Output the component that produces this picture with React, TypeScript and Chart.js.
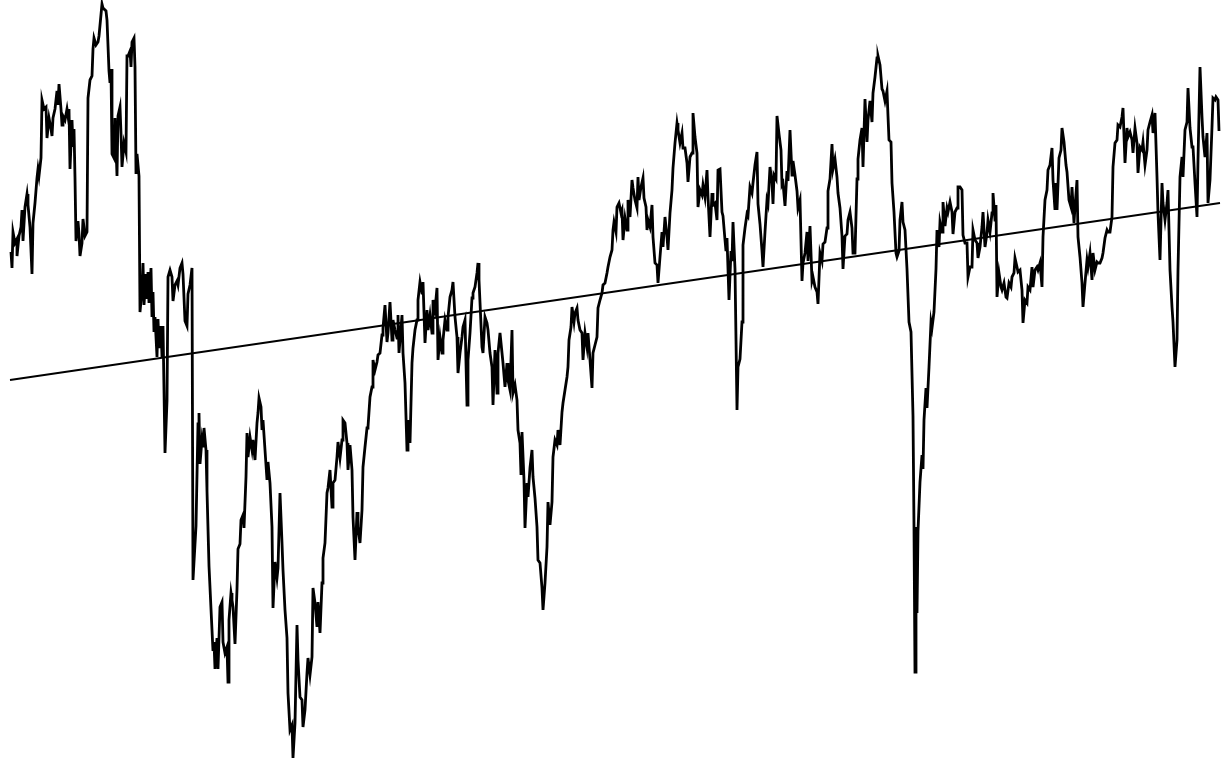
import React, { useEffect, useRef } from "react";
import { Chart, registerables } from "chart.js";

Chart.register(...registerables);

// [time index, value] pairs
const SERIES: Array<[number, number]> = [
  [0.1, 54.8], [0.2, 53.2], [0.3, 56.8], [0.5, 55.7], [0.7, 56.1], [0.7, 54.4], [0.9, 56.4], [1.1, 57.3], [1.2, 59.0], [1.3, 55.9],
  [1.5, 59.3], [1.7, 60.6], [1.8, 59.5], [2.0, 57.3], [2.2, 52.6], [2.3, 57.7], [2.5, 59.7], [2.7, 62.2], [2.8, 63.1], [2.9, 62.4],
  [3.1, 64.2], [3.2, 70.0], [3.4, 69.1], [3.6, 69.3], [3.7, 66.2], [3.9, 68.2], [4.1, 67.1], [4.2, 66.4], [4.3, 68.2], [4.5, 69.1],
  [4.7, 70.9], [4.8, 69.5], [4.9, 71.6], [5.1, 69.1], [5.2, 67.5], [5.3, 68.4], [5.5, 68.0], [5.7, 69.1], [5.8, 68.4], [5.9, 69.1],
  [6.0, 63.1], [6.2, 68.0], [6.3, 65.3], [6.4, 67.1], [6.5, 62.2], [6.6, 55.9], [6.8, 57.9], [6.9, 56.6], [7.0, 54.4], [7.2, 55.7],
  [7.3, 58.1], [7.5, 56.4], [7.7, 56.8], [7.8, 70.2], [8.0, 72.0], [8.2, 72.4], [8.3, 75.1], [8.4, 76.2], [8.6, 75.5], [8.8, 75.8],
  [8.9, 76.4], [9.2, 79.6], [9.3, 79.2], [9.6, 78.9], [9.7, 78.0], [9.9, 72.9], [10.0, 71.7], [10.1, 73.1], [10.2, 64.6], [10.4, 64.2],
  [10.5, 68.2], [10.7, 62.4], [10.8, 68.4], [11.0, 69.3], [11.1, 66.6], [11.2, 63.3], [11.4, 65.7], [11.6, 64.8], [11.7, 74.4], [11.8, 74.4],
  [12.0, 74.9], [12.1, 73.3], [12.2, 75.8], [12.4, 76.2], [12.5, 73.3], [12.6, 62.6], [12.7, 64.6], [12.9, 62.4], [13.0, 48.8], [13.2, 51.0],
  [13.3, 53.7], [13.4, 49.5], [13.6, 52.6], [13.7, 50.1], [13.8, 52.8], [13.9, 49.7], [14.1, 53.2], [14.2, 48.3], [14.3, 50.8], [14.4, 46.8],
  [14.5, 48.3], [14.7, 44.3], [14.8, 48.1], [14.9, 45.2], [15.1, 47.4], [15.2, 44.3], [15.3, 47.4], [15.5, 34.7], [15.7, 39.9], [15.8, 52.3],
  [16.0, 53.0], [16.2, 52.3], [16.3, 49.9], [16.5, 51.5], [16.7, 51.9], [16.8, 51.5], [17.0, 53.2], [17.2, 53.7], [17.3, 52.6], [17.5, 47.9],
  [17.7, 47.4], [17.8, 50.6], [18.0, 51.5], [18.2, 53.2], [18.3, 22.0], [18.6, 27.4], [18.8, 37.6], [18.9, 38.7], [19.0, 33.6], [19.2, 36.1],
  [19.3, 35.4], [19.4, 37.2], [19.6, 35.0], [19.7, 30.9], [19.9, 23.4], [20.1, 19.1], [20.3, 14.9], [20.4, 15.8], [20.5, 13.1], [20.7, 16.2],
  [20.8, 13.1], [21.0, 19.3], [21.2, 19.8], [21.3, 15.8], [21.5, 14.7], [21.7, 15.3], [21.8, 11.8], [21.9, 18.0], [22.1, 20.7], [22.2, 20.0],
  [22.3, 19.3], [22.5, 15.6], [22.7, 21.1], [22.8, 25.1], [23.0, 25.6], [23.1, 28.0], [23.3, 28.5], [23.4, 27.2], [23.6, 32.3],
  [23.7, 36.7], [23.8, 34.3], [24.0, 36.3], [24.2, 35.0], [24.3, 36.0], [24.5, 34.0], [24.7, 37.7], [24.8, 38.7], [24.9, 40.2], [25.1, 39.3],
  [25.2, 37.0], [25.3, 38.0], [25.5, 35.0], [25.7, 32.0], [25.8, 33.8], [26.0, 31.7], [26.2, 27.3], [26.3, 19.2], [26.5, 23.8], [26.7, 22.2],
  [26.8, 23.2], [27.0, 30.7], [27.2, 25.7], [27.3, 23.0], [27.5, 19.0], [27.7, 16.2], [27.8, 10.7], [28.0, 7.0], [28.2, 7.5], [28.3, 4.2],
  [28.5, 7.7], [28.7, 17.5], [28.8, 14.0], [29.0, 10.3], [29.2, 10.0], [29.3, 7.3], [29.5, 9.0], [29.7, 12.7], [29.8, 14.2], [30.0, 12.5],
  [30.2, 14.3], [30.3, 21.2], [30.5, 19.7], [30.7, 17.3], [30.8, 19.8], [31.0, 16.7], [31.2, 21.7], [31.3, 24.2], [31.5, 25.7], [31.7, 30.7],
  [31.8, 31.2], [32.0, 33.0], [32.2, 29.3], [32.3, 31.7], [32.5, 32.0], [32.7, 34.3], [32.8, 35.8], [33.0, 34.2], [33.2, 36.0], [33.3, 38.0],
  [33.5, 37.7], [33.7, 35.7], [33.8, 33.0], [34.0, 35.5], [34.2, 33.0], [34.3, 28.3], [34.5, 24.0], [34.7, 28.8], [34.8, 27.3], [35.0, 25.7],
  [35.2, 29.0], [35.3, 33.3], [35.5, 35.3], [35.7, 37.2], [35.8, 37.3], [36.0, 40.3], [36.2, 41.3], [36.3, 44.0], [36.5, 43.0], [36.7, 43.8],
  [36.8, 44.5], [37.0, 44.7], [37.2, 46.5], [37.3, 47.2], [37.5, 49.5], [37.7, 45.8], [37.8, 46.7], [38.0, 49.8], [38.2, 46.0], [38.3, 48.0],
  [38.5, 47.0], [38.7, 46.2], [38.8, 48.5], [38.9, 44.7], [39.2, 48.5], [39.3, 44.7], [39.5, 41.7], [39.7, 35.0], [39.8, 38.0], [40.0, 35.7],
  [40.2, 43.7], [40.3, 45.2], [40.5, 47.0], [40.7, 48.0], [40.8, 50.0], [41.0, 51.8], [41.2, 50.7], [41.3, 51.8], [41.5, 45.7], [41.7, 49.0],
  [41.8, 47.0], [42.0, 48.5], [42.2, 46.7], [42.3, 50.0], [42.5, 49.0], [42.7, 51.2], [42.8, 44.0], [43.0, 46.3], [43.2, 44.7], [43.3, 46.0],
  [43.5, 48.0], [43.7, 47.0], [43.8, 48.3], [44.0, 50.3], [44.2, 51.0], [44.3, 51.8], [44.5, 48.3], [44.7, 46.3], [44.8, 42.7], [45.0, 44.7],
  [45.2, 46.3], [45.3, 47.3], [45.5, 48.0], [45.7, 39.5], [45.8, 44.0], [46.0, 46.7], [46.2, 50.2], [46.3, 50.7], [46.5, 51.3], [46.7, 52.7],
  [46.8, 53.7], [46.9, 52.0],
  [47.2, 45.3], [47.3, 44.7], [47.5, 48.3], [47.7, 47.7], [47.8, 47.0], [48.0, 44.7], [48.2, 43.3], [48.3, 39.5], [48.5, 45.0], [48.7, 40.7],
  [48.8, 44.7], [49.0, 46.7], [49.2, 44.7], [49.3, 43.7], [49.5, 41.3], [49.7, 43.7], [49.8, 42.0], [50.0, 41.0], [50.2, 47.0], [50.3, 40.7],
  [50.5, 41.5], [50.7, 40.0], [50.8, 37.0], [51.0, 35.7], [51.1, 32.5], [51.2, 36.8], [51.4, 32.0], [51.5, 27.2], [51.7, 31.7], [51.8, 30.3],
  [52.0, 33.2], [52.2, 35.0], [52.3, 32.3], [52.5, 30.2], [52.7, 27.3], [52.8, 24.0], [53.0, 23.7], [53.2, 21.2], [53.3, 19.0], [53.5, 21.7],
  [53.7, 25.3], [53.8, 29.8], [54.0, 27.5], [54.2, 29.8], [54.3, 34.3], [54.5, 36.0], [54.7, 35.5], [54.8, 37.0], [55.0, 35.5], [55.2, 38.8],
  [55.3, 39.7], [55.5, 41.0], [55.7, 42.3], [55.8, 43.3], [55.9, 46.0], [56.1, 47.3], [56.2, 49.3], [56.4, 47.8], [56.5, 48.7], [56.7, 49.2],
  [56.8, 48.0], [57.0, 47.0], [57.2, 46.7], [57.3, 44.0], [57.5, 46.7], [57.7, 45.3], [57.8, 46.7], [58.0, 44.0], [58.2, 41.2], [58.3, 44.7],
  [58.5, 45.5], [58.7, 46.3], [58.8, 49.2], [59.0, 50.0], [59.2, 50.7], [59.3, 51.5], [59.5, 51.7], [59.7, 52.7], [59.8, 53.3], [60.0, 54.3],
  [60.2, 55.0], [60.3, 57.0], [60.4, 57.8], [60.6, 56.8], [60.7, 59.3], [60.9, 59.7], [61.1, 58.7], [61.2, 59.0], [61.3, 56.0], [61.5, 58.2],
  [61.7, 57.0], [61.8, 60.0], [62.0, 58.3], [62.2, 62.0], [62.3, 61.2], [62.5, 60.0], [62.7, 59.2], [62.8, 62.3], [62.9, 60.0], [63.1, 61.3],
  [63.3, 62.2], [63.4, 60.2], [63.6, 59.3], [63.7, 57.0], [63.8, 58.0], [64.0, 57.3], [64.2, 59.5], [64.3, 56.3], [64.5, 53.7], [64.7, 53.5],
  [64.8, 51.7], [65.0, 54.3], [65.2, 56.8], [65.3, 55.3], [65.5, 58.3], [65.7, 56.3], [65.8, 55.0], [66.0, 58.7], [66.2, 61.0], [66.3, 63.2],
  [66.5, 65.7], [66.7, 67.7], [66.8, 67.0], [67.0, 65.7], [67.2, 66.7], [67.3, 65.2], [67.5, 65.2], [67.7, 63.7], [67.8, 61.8], [68.0, 64.3],
  [68.2, 64.7], [68.3, 68.7], [68.5, 66.3], [68.7, 64.7], [68.8, 59.3], [69.0, 61.0], [69.2, 60.5], [69.3, 61.5], [69.5, 60.3], [69.7, 63.0],
  [69.8, 60.3], [70.0, 56.3], [70.2, 60.7], [70.3, 59.5], [70.5, 59.7], [70.7, 58.0], [70.8, 63.0],
  [71.0, 63.1], [71.2, 58.8], [71.3, 58.4], [71.5, 56.0], [71.6, 54.9], [71.7, 56.2], [71.9, 50.0], [72.1, 54.9], [72.2, 53.9], [72.3, 57.8],
  [72.5, 53.1], [72.7, 39.0], [72.8, 43.3], [73.0, 44.1], [73.2, 47.8], [73.3, 55.5], [73.5, 57.2], [73.7, 58.6], [73.8, 58.4], [74.0, 61.3],
  [74.2, 60.7], [74.3, 61.7], [74.5, 63.5], [74.7, 64.8], [74.8, 59.6], [75.0, 57.6], [75.2, 54.9], [75.3, 53.3], [75.5, 56.8], [75.7, 60.0],
  [75.8, 59.6], [76.0, 63.3], [76.2, 61.7], [76.3, 59.6], [76.4, 62.5], [76.6, 62.1], [76.7, 68.4], [76.9, 66.6], [77.1, 65.0], [77.2, 61.5],
  [77.3, 61.7], [77.5, 59.4], [77.7, 62.9], [77.8, 61.9], [78.0, 67.0], [78.2, 62.5], [78.3, 63.9], [78.5, 62.5], [78.7, 60.9], [78.8, 59.2],
  [79.0, 60.0], [79.2, 51.9], [79.3, 53.7], [79.5, 54.7], [79.7, 56.8], [79.8, 53.9], [80.0, 57.4], [80.2, 51.9], [80.3, 52.3], [80.5, 51.3],
  [80.7, 50.8], [80.8, 49.6], [81.0, 54.7], [81.2, 53.9], [81.3, 55.6], [81.5, 55.8], [81.7, 57.2], [81.8, 60.9], [82.0, 62.1], [82.2, 65.6],
  [82.3, 63.1], [82.5, 64.1], [82.7, 62.3], [82.8, 60.7], [83.0, 59.2], [83.2, 56.4], [83.3, 53.1], [83.5, 56.4], [83.7, 56.6], [83.8, 58.0],
  [84.0, 58.8], [84.2, 57.2], [84.3, 54.7], [84.5, 54.7], [84.7, 62.1], [84.8, 64.1], [85.0, 66.0], [85.2, 67.2], [85.3, 63.3], [85.5, 70.1],
  [85.7, 65.8], [85.8, 68.0], [86.0, 69.9], [86.2, 67.8], [86.3, 70.7], [86.5, 72.3], [86.7, 74.2], [86.8, 74.4], [87.0, 73.5], [87.2, 71.1],
  [87.3, 70.9], [87.5, 69.9], [87.7, 70.9], [87.8, 68.4], [87.9, 66.0], [88.1, 65.8], [88.2, 61.7], [88.4, 58.8], [88.6, 54.7], [88.7, 54.3],
  [88.9, 54.9], [89.0, 58.0], [89.2, 59.8], [89.3, 57.8], [89.5, 57.0], [89.7, 53.1], [89.9, 47.8], [90.1, 46.8], [90.3, 38.4], [90.4, 27.3],
  [90.5, 12.8], [90.6, 27.3], [90.7, 18.7], [90.8, 26.9], [91.0, 31.8], [91.2, 34.5], [91.3, 33.1], [91.4, 38.0], [91.6, 41.2], [91.7, 39.2],
  [91.9, 43.3], [92.1, 47.8], [92.2, 47.2], [92.4, 48.8], [92.6, 53.1], [92.7, 57.0], [92.9, 55.3], [93.0, 57.8], [93.2, 56.8], [93.3, 59.8],
  [93.5, 57.4], [93.7, 59.2], [93.8, 58.8], [94.0, 59.8], [94.2, 58.8], [94.3, 56.6], [94.5, 58.8], [94.7, 59.2], [94.8, 61.3],
  [95.0, 61.3], [95.2, 61.0], [95.3, 56.5], [95.5, 55.7], [95.7, 55.7], [95.8, 52.3], [96.0, 53.3], [96.2, 53.3], [96.3, 57.0], [96.5, 56.0],
  [96.7, 55.7], [96.8, 54.2], [97.0, 55.3], [97.2, 57.3], [97.3, 58.8], [97.5, 55.3], [97.7, 56.7], [97.8, 58.0], [98.0, 56.8], [98.2, 58.7],
  [98.3, 60.7], [98.5, 58.0], [98.6, 59.5], [98.7, 50.3], [98.9, 52.7], [99.1, 51.3], [99.2, 51.0], [99.4, 51.7], [99.6, 50.3], [99.7, 50.2],
  [99.9, 51.7], [100.1, 51.3], [100.2, 52.3], [100.4, 52.7], [100.5, 54.2], [100.7, 53.3], [100.8, 52.8], [101.0, 53.0], [101.2, 51.0], [101.3, 47.7],
  [101.5, 50.0], [101.7, 49.7], [101.8, 51.3], [102.0, 51.0], [102.2, 53.3], [102.3, 51.3], [102.5, 53.0], [102.7, 53.3], [102.8, 53.0], [103.0, 53.7],
  [103.2, 51.3], [103.3, 56.3], [103.5, 60.0], [103.7, 61.0], [103.8, 63.0], [104.0, 63.5], [104.2, 65.2], [104.3, 62.0], [104.5, 59.0], [104.6, 61.7],
  [104.7, 59.0], [104.9, 64.2], [105.1, 65.0], [105.2, 67.2], [105.4, 65.8], [105.6, 63.5], [105.7, 62.8], [105.9, 60.0], [106.1, 59.3], [106.2, 61.3],
  [106.4, 57.7], [106.5, 59.3], [106.7, 62.0], [106.8, 56.3], [107.0, 54.3], [107.2, 51.7], [107.3, 49.3], [107.5, 51.7], [107.7, 54.0], [107.8, 53.3],
  [108.0, 54.7], [108.2, 52.0], [108.3, 54.7], [108.5, 53.0], [108.7, 53.8], [108.8, 53.7], [109.0, 53.7], [109.2, 54.2], [109.3, 54.7], [109.5, 56.2],
  [109.7, 57.0], [109.8, 56.8], [110.0, 56.8], [110.2, 58.3], [110.3, 63.3], [110.5, 65.7], [110.7, 66.0], [110.8, 67.5], [111.0, 67.3], [111.2, 68.3],
  [111.3, 69.2], [111.5, 63.7], [111.7, 67.2], [111.8, 66.3], [112.0, 66.8], [112.2, 66.0], [112.3, 64.7], [112.5, 67.2], [112.7, 65.7], [112.8, 62.7],
  [113.0, 65.3], [113.2, 65.0], [113.3, 65.8], [113.5, 63.5], [113.7, 65.0], [113.8, 67.0], [114.0, 67.8], [114.2, 68.5], [114.3, 66.7], [114.5, 68.7],
  [114.7, 62.3], [114.8, 58.7], [115.0, 54.0], [115.2, 61.7], [115.3, 59.7], [115.5, 58.0], [115.7, 59.7], [115.8, 61.0], [116.0, 53.0], [116.2, 49.3],
  [116.3, 47.8], [116.5, 43.3], [116.7, 46.0], [116.8, 53.0], [117.0, 62.3], [117.2, 64.3], [117.3, 62.3], [117.5, 67.0], [117.7, 67.8], [117.8, 71.2],
  [118.0, 67.2], [118.2, 65.3], [118.3, 65.3], [118.5, 61.7], [118.7, 58.3], [118.8, 64.0], [119.0, 73.3], [119.2, 68.3], [119.3, 66.3], [119.5, 64.3],
  [119.7, 66.7], [119.8, 59.7], [120.0, 62.0], [120.2, 67.3], [120.3, 70.2], [120.5, 70.0], [120.6, 70.3], [120.8, 70.0], [120.9, 66.9],
];

// Trend line end points [time index, value]
const TREND: Array<[number, number]> = [
  [0, 42.0],
  [121, 59.7],
];

const X_MIN = -1;
const X_MAX = 122;
const Y_MIN = 3.9;
const Y_MAX = 80;

export default function App() {
  const canvasRef = useRef<HTMLCanvasElement | null>(null);

  useEffect(() => {
    const canvas = canvasRef.current;
    if (!canvas) return;
    const chart = new Chart(canvas, {
      type: "line",
      data: {
        datasets: [
          {
            label: "Series",
            data: SERIES.map(([x, y]) => ({ x, y })),
            borderColor: "#000000",
            borderWidth: 2.8,
            pointRadius: 0,
            tension: 0,
            fill: false,
          },
          {
            label: "Trend",
            data: TREND.map(([x, y]) => ({ x, y })),
            borderColor: "#000000",
            borderWidth: 2,
            pointRadius: 0,
            tension: 0,
            fill: false,
          },
        ],
      },
      options: {
        animation: false,
        responsive: true,
        maintainAspectRatio: false,
        layout: { padding: 0 },
        plugins: {
          legend: { display: false },
          tooltip: { enabled: false },
          title: { display: false },
        },
        scales: {
          x: { type: "linear", min: X_MIN, max: X_MAX, display: false },
          y: { type: "linear", min: Y_MIN, max: Y_MAX, display: false },
        },
      },
    });
    return () => chart.destroy();
  }, []);

  return (
    <div
      style={{
        position: "fixed",
        left: 0,
        top: 0,
        width: 1230,
        height: 761,
        background: "#ffffff",
      }}
    >
      <canvas ref={canvasRef} />
    </div>
  );
}
